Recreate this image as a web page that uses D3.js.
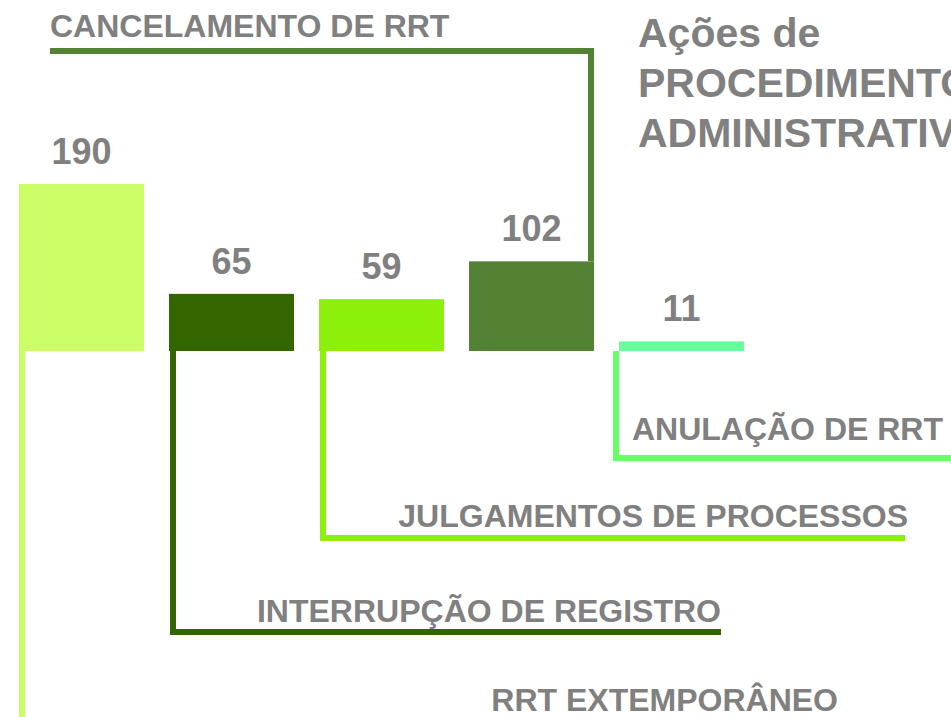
<!DOCTYPE html>
<html>
<head>
<meta charset="utf-8">
<script src="https://d3js.org/d3.v7.min.js"></script>
<style>
  html, body { margin: 0; padding: 0; background: #fff; overflow: hidden; }
  text { font-family: "Liberation Sans", Arial, sans-serif; font-weight: bold; fill: #808080; }
</style>
</head>
<body>
<div id="custom-container"></div>
<script>
/* Access data */
var categories = ["RRT EXTEMPORÂNEO", "INTERRUPÇÃO DE REGISTRO", "JULGAMENTOS DE PROCESSOS", "CANCELAMENTO DE RRT", "ANULAÇÃO DE RRT"];
var values = [190, 65, 59, 102, 11];
var titleLines = ["Ações de", "PROCEDIMENTOS", "ADMINISTRATIVOS"];

var barColors = ["#ccff66", "#336600", "#8cf00a", "#548235", "#66ff99"];
var lineColors = ["#ccff66", "#336600", "#8cf00a", "#548235", "#66ff66"];

var dataset = categories.map(function (c, i) { return { name: c, value: values[i] }; });
var xAccessor = function (d) { return d.name; };
var yAccessor = function (d) { return d.value; };

// 2. Create chart dimensions
var dimensions = { width: 951, height: 717 };

// 3. Draw canvas
var wrapper = d3.select("#custom-container")
  .append("svg")
  .attr("width", dimensions.width)
  .attr("height", dimensions.height);

// 4. Create scales
var xScale = d3.scaleBand()
  .domain(categories)
  .range([19, 744])
  .paddingInner(1/6)
  .paddingOuter(0);
var yScale = d3.scaleLinear()
  .domain([0, 190])
  .range([351, 184]);

// leader lines from each bar to its label (layout only)
var leaders = [
  { from: "left", dx: 3, turnY: 724, endX: 840, labelX: 838, labelY: 711 },
  { from: "left", dx: 4, turnY: 632, endX: 721, labelX: 721, labelY: 622 },
  { from: "left", dx: 4, turnY: 538, endX: 905, labelX: 908, labelY: 527 },
  { from: "top", dx: -3, turnY: 51, endX: 50, labelX: 50, labelY: 37, anchor: "start" },
  { from: "left", dx: -3, turnY: 458, endX: 960, labelX: 943, labelY: 440 }
];

// 5. Draw data
var lines = wrapper.append("g");
dataset.forEach(function (d, i) {
  var l = leaders[i];
  var x = l.from === "top"
    ? xScale(xAccessor(d)) + xScale.bandwidth() + l.dx
    : xScale(xAccessor(d)) + l.dx;
  var y0 = l.from === "top" ? yScale(yAccessor(d)) : yScale(0);
  var pts = [[x, y0], [x, l.turnY], [l.endX, l.turnY]];
  lines.append("path")
    .attr("d", d3.line()(pts))
    .attr("fill", "none")
    .attr("stroke", lineColors[i])
    .attr("stroke-width", 6)
    .attr("stroke-linejoin", "miter");
  wrapper.append("text")
    .attr("x", l.labelX)
    .attr("y", l.labelY)
    .attr("text-anchor", l.anchor || "end")
    .style("font-size", "32px")
    .text(xAccessor(d));
});

var bars = wrapper.append("g");
bars.selectAll("rect")
  .data(dataset)
  .join("rect")
  .attr("x", d => xScale(xAccessor(d)))
  .attr("y", d => yScale(yAccessor(d)))
  .attr("width", xScale.bandwidth())
  .attr("height", d => yScale(0) - yScale(yAccessor(d)))
  .attr("fill", (d, i) => barColors[i]);

bars.selectAll("text")
  .data(dataset)
  .join("text")
  .attr("x", d => xScale(xAccessor(d)) + xScale.bandwidth()/2)
  .attr("y", d => yScale(yAccessor(d)) - 20)
  .attr("text-anchor", "middle")
  .style("font-size", "36px")
  .text(d => yAccessor(d));

// 6. Draw peripherals
wrapper.append("g")
  .selectAll("text")
  .data(titleLines)
  .join("text")
  .attr("x", 638)
  .attr("y", (d, i) => 47 + i*50)
  .style("font-size", "41px")
  .text(d => d);
</script>
</body>
</html>
